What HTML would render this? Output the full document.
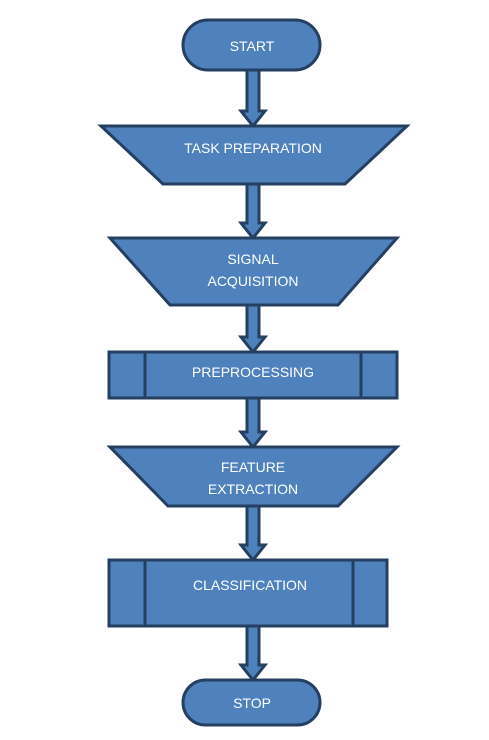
<!DOCTYPE html>
<html><head><style>body{margin:0;background:#fff}svg{display:block}text{font-family:"Liberation Sans",sans-serif;font-size:14px;fill:#fff;text-anchor:middle}</style></head><body>
<svg width="489" height="740" viewBox="0 0 489 740" xmlns="http://www.w3.org/2000/svg">
<defs>
<g id="arr"><path d="M-6,0 V-16 M6,0" /></g>
</defs>
<g fill="#4f81bd" stroke="#243f60" stroke-width="3" stroke-linejoin="miter">
<!-- arrows: shaft 12 wide, head 24 wide 14 tall -->
<path d="M247,70 V111 H241 L253,126 L265,111 H259 V70 Z"/>
<path d="M247,184 V223 H241 L253,238 L265,223 H259 V184 Z"/>
<path d="M247,305 V337 H241 L253,352 L265,337 H259 V305 Z"/>
<path d="M247,398 V432 H241 L253,447 L265,432 H259 V398 Z"/>
<path d="M247,506 V545 H241 L253,560 L265,545 H259 V506 Z"/>
<path d="M247,626 V665 H241 L253,680 L265,665 H259 V626 Z"/>
<rect x="183" y="20" width="137" height="50" rx="25"/>
<path d="M101,126 H407 L345,184 H163 Z"/>
<path d="M110,238 H397 L338,305 H170 Z"/>
<rect x="109" y="352" width="288" height="46"/>
<line x1="145" y1="352" x2="145" y2="398"/><line x1="361" y1="352" x2="361" y2="398"/>
<path d="M110,447 H397 L338,506 H168 Z"/>
<rect x="109" y="560" width="278" height="66"/>
<line x1="145" y1="560" x2="145" y2="626"/><line x1="353" y1="560" x2="353" y2="626"/>
<rect x="183" y="680" width="137" height="45" rx="22.5"/>
</g>
<text x="252" y="51">START</text>
<text x="253" y="153">TASK PREPARATION</text>
<text x="253" y="264">SIGNAL</text>
<text x="253" y="286">ACQUISITION</text>
<text x="253" y="377">PREPROCESSING</text>
<text x="253" y="472">FEATURE</text>
<text x="253" y="494">EXTRACTION</text>
<text x="250" y="590">CLASSIFICATION</text>
<text x="252" y="708">STOP</text>
</svg>
</body></html>
